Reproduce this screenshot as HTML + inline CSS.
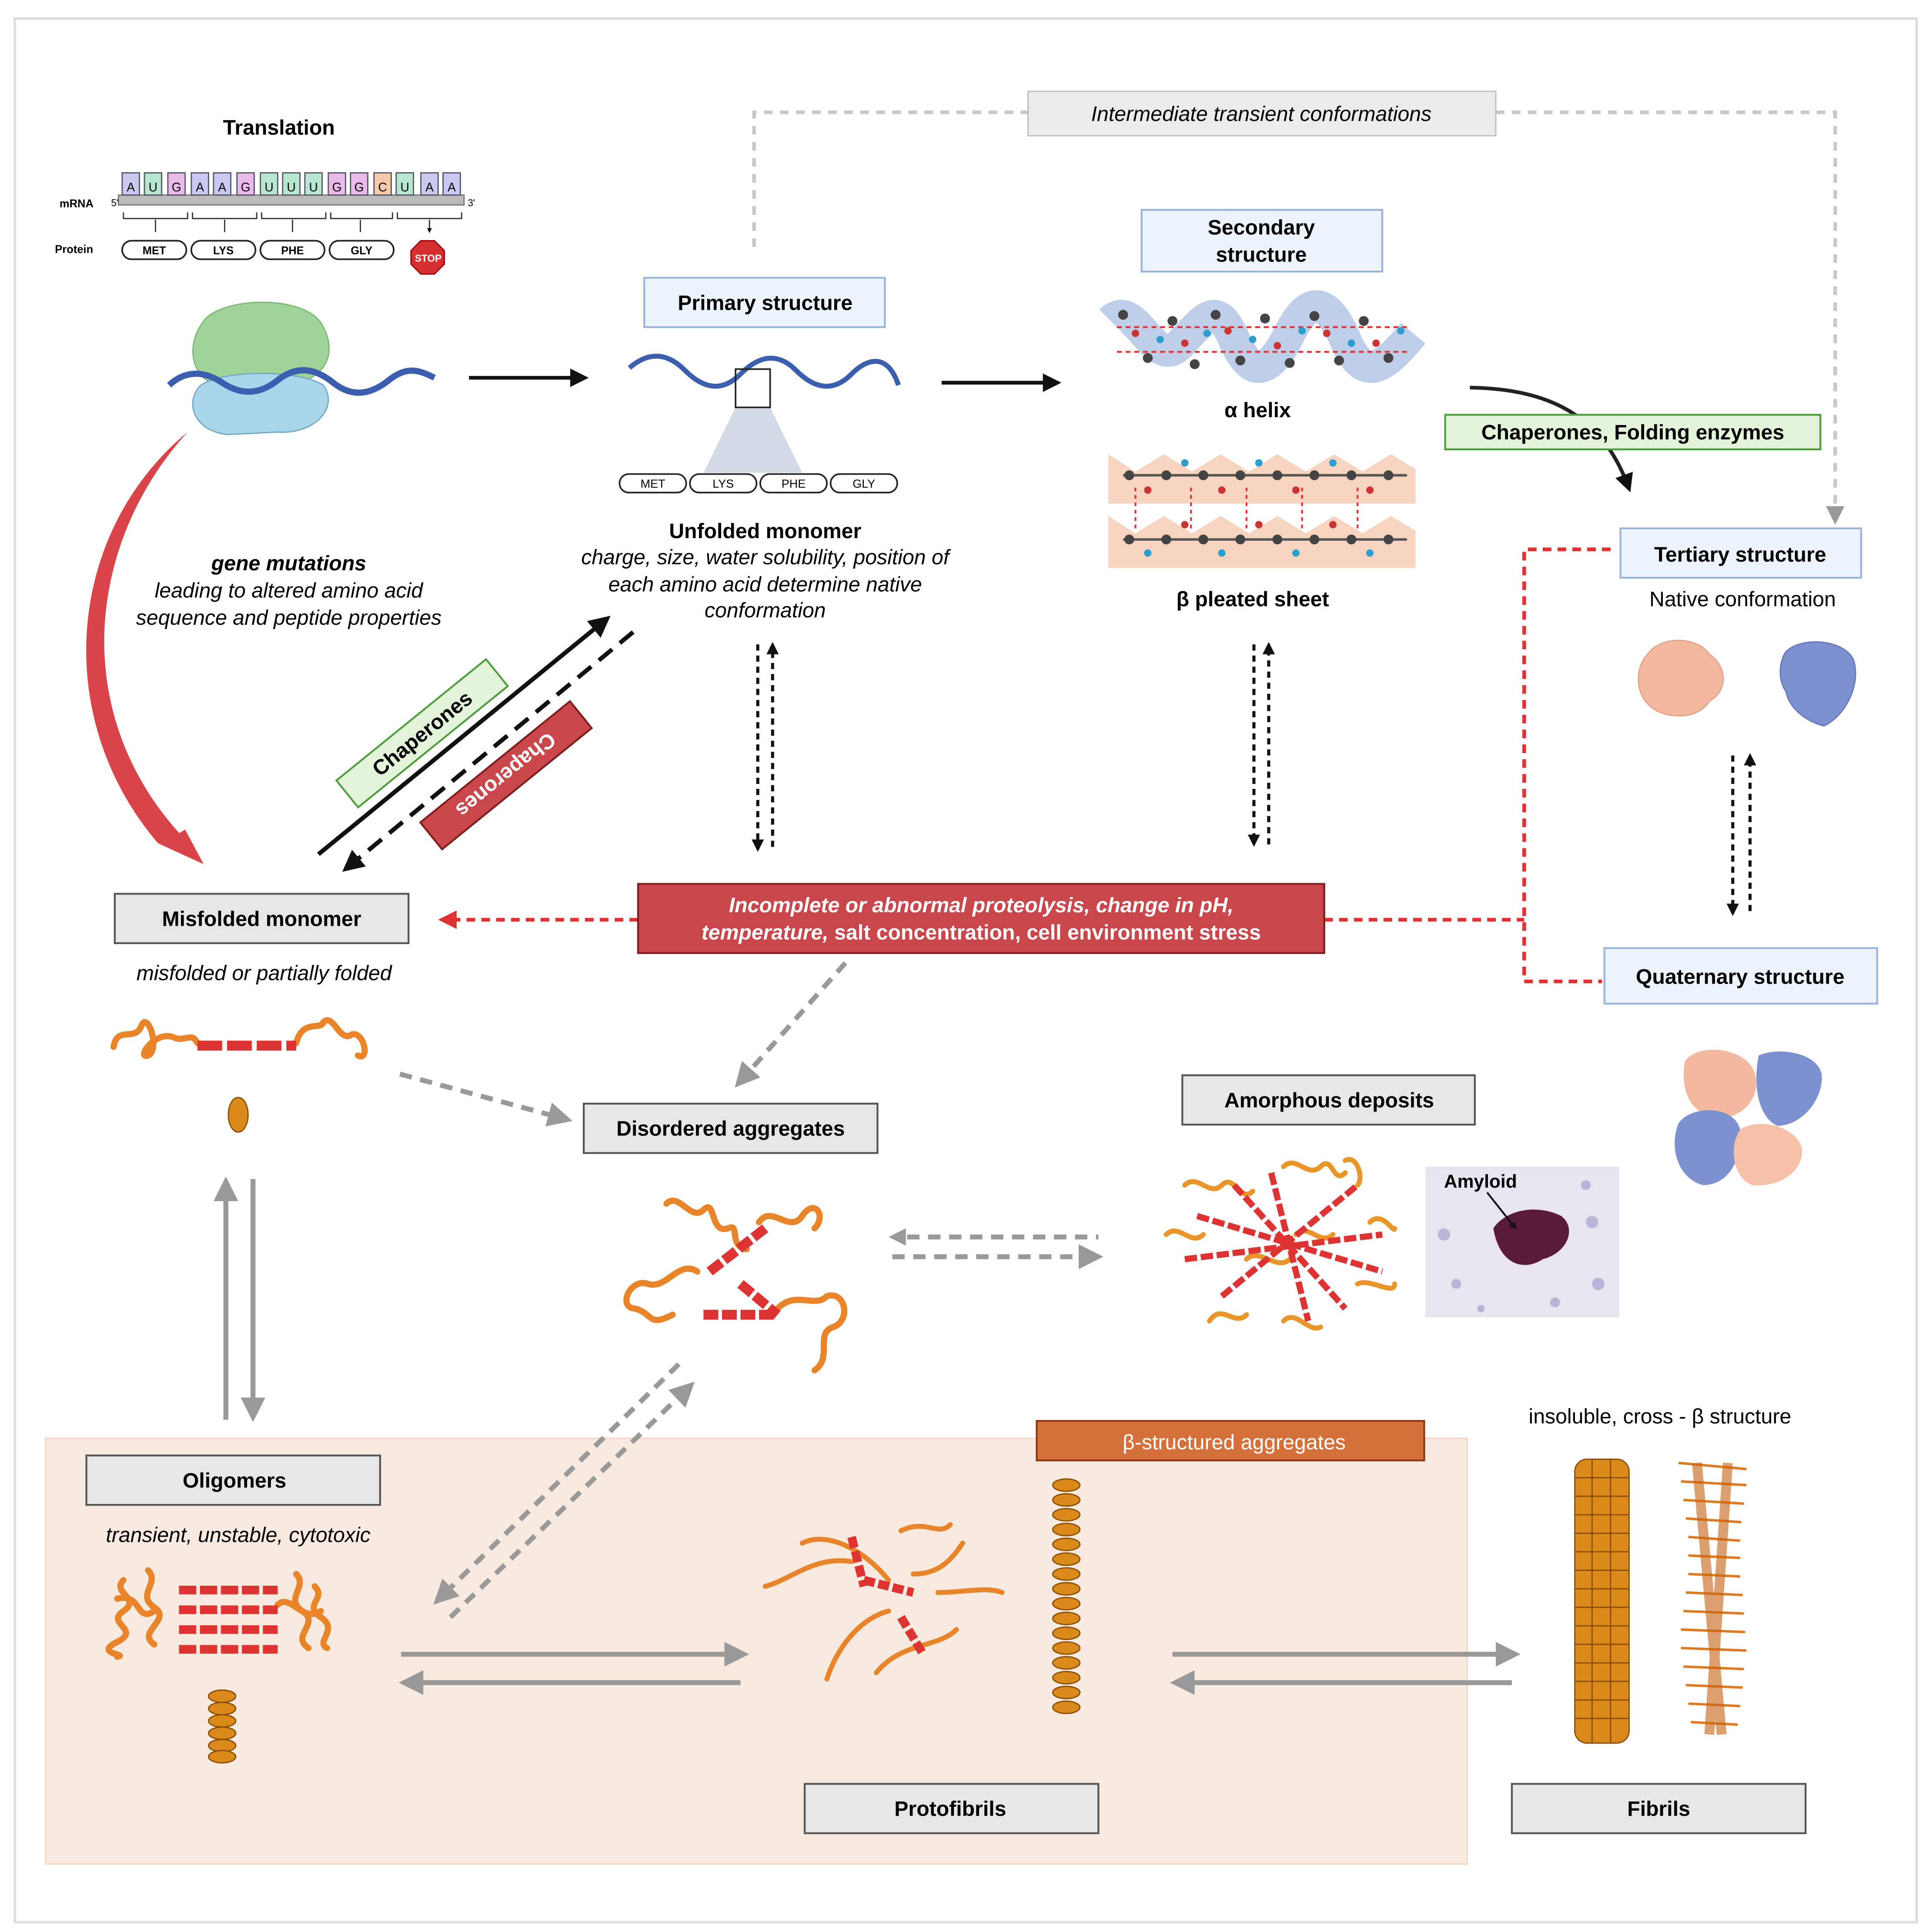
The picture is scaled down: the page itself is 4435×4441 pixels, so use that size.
<!DOCTYPE html>
<html><head><meta charset="utf-8"><style>
html,body{margin:0;padding:0;background:#fff}
svg{display:block}
text{font-family:"Liberation Sans",sans-serif}
</style></head><body>
<svg xmlns="http://www.w3.org/2000/svg" width="4435" height="4441" viewBox="0 0 1563 1565" preserveAspectRatio="none">
<defs>
<marker id="ab" viewBox="0 0 10 10" refX="8" refY="5" markerWidth="5" markerHeight="5" orient="auto"><path d="M0,0L10,5L0,10z" fill="#111"/></marker>
<marker id="ag" viewBox="0 0 10 10" refX="8" refY="5" markerWidth="5" markerHeight="5" orient="auto"><path d="M0,0L10,5L0,10z" fill="#999"/></marker>
<marker id="ar" viewBox="0 0 10 10" refX="8" refY="5" markerWidth="5" markerHeight="5" orient="auto"><path d="M0,0L10,5L0,10z" fill="#d33"/></marker>
<marker id="ad" viewBox="0 0 10 10" refX="8" refY="5" markerWidth="4" markerHeight="4" orient="auto"><path d="M0,0L10,5L0,10z" fill="#111"/></marker>
</defs>
<rect x="0" y="0" width="1563" height="1565" fill="#fff"/>
<rect x="12" y="15" width="1541" height="1542" fill="none" stroke="#ddd" stroke-width="2"/>
<rect x="37" y="1165" width="1152" height="345" fill="#f8eadf" stroke="#f0d6c4"/>

<text x="226" y="109" font-size="17" font-weight="bold" text-anchor="middle">Translation</text>
<text x="62" y="168" font-size="9" font-weight="bold" text-anchor="middle">mRNA</text>
<text x="60" y="205" font-size="9" font-weight="bold" text-anchor="middle">Protein</text>
<rect x="96" y="158" width="280" height="8" fill="#bbb" stroke="#777"/>
<g font-size="10" text-anchor="middle">
<g fill="#c8c8f0" stroke="#556"><rect x="99" y="140" width="14" height="18"/><rect x="155" y="140" width="14" height="18"/><rect x="173" y="140" width="14" height="18"/><rect x="341" y="140" width="14" height="18"/><rect x="359" y="140" width="14" height="18"/></g>
<g fill="#b6e6cf" stroke="#556"><rect x="117" y="140" width="14" height="18"/><rect x="211" y="140" width="14" height="18"/><rect x="229" y="140" width="14" height="18"/><rect x="247" y="140" width="14" height="18"/><rect x="321" y="140" width="14" height="18"/></g>
<g fill="#e9b9e9" stroke="#556"><rect x="136" y="140" width="14" height="18"/><rect x="192" y="140" width="14" height="18"/><rect x="266" y="140" width="14" height="18"/><rect x="284" y="140" width="14" height="18"/></g>
<rect x="303" y="140" width="14" height="18" fill="#f6c9a8" stroke="#556"/>
<text x="106" y="155">A</text><text x="124" y="155">U</text><text x="143" y="155">G</text><text x="162" y="155">A</text><text x="180" y="155">A</text><text x="199" y="155">G</text><text x="218" y="155">U</text><text x="236" y="155">U</text><text x="254" y="155">U</text><text x="273" y="155">G</text><text x="291" y="155">G</text><text x="310" y="155">C</text><text x="328" y="155">U</text><text x="348" y="155">A</text><text x="366" y="155">A</text>
</g>
<text x="90" y="167" font-size="8">5'</text><text x="379" y="167" font-size="8">3'</text>
<g stroke="#333" fill="none"><path d="M100,172v5h52v-5M156,172v5h52v-5M212,172v5h52v-5M268,172v5h50v-5M322,172v5h52v-5"/>
<path d="M126,178v10M182,178v10M237,178v10M292,178v10M348,178v10" marker-end="url(#ad)"/></g>
<g fill="#fff" stroke="#222" stroke-width="1.3"><rect x="99" y="195" width="52" height="15" rx="7.5"/><rect x="155" y="195" width="52" height="15" rx="7.5"/><rect x="211" y="195" width="52" height="15" rx="7.5"/><rect x="267" y="195" width="52" height="15" rx="7.5"/></g>
<g font-size="9" font-weight="bold" text-anchor="middle"><text x="125" y="206">MET</text><text x="181" y="206">LYS</text><text x="237" y="206">PHE</text><text x="293" y="206">GLY</text></g>
<polygon points="341,195 352,195 360,203 360,214 352,222 341,222 333,214 333,203" fill="#d62f2f" stroke="#900"/>
<text x="347" y="212" font-size="8" fill="#fff" font-weight="bold" text-anchor="middle">STOP</text>

<path d="M165,260 C180,240 250,238 262,265 C275,290 260,312 225,312 L175,312 C155,305 150,280 165,260z" fill="#9fd39a" stroke="#7ab873"/>
<path d="M160,315 C170,300 240,298 262,312 C275,330 255,352 225,350 L185,352 C160,350 150,330 160,315z" fill="#a9d6e8" stroke="#6fa8c6"/>
<path d="M137,312 C150,300 165,300 180,310 S210,320 225,308 S255,298 270,310 S300,320 315,308 S340,300 352,306" fill="none" stroke="#3b5fae" stroke-width="5"/>
<line x1="380" y1="306" x2="474" y2="306" stroke="#111" stroke-width="3" marker-end="url(#ab)"/>

<rect x="522" y="225" width="195" height="40" fill="#edf3fc" stroke="#9ab3da" stroke-width="1.5"/>
<text x="620" y="251" font-size="17" font-weight="bold" text-anchor="middle">Primary structure</text>
<polygon points="596,330 624,330 650,383 570,383" fill="#c9cfe0" opacity="0.8"/>
<path d="M510,298 C525,285 540,285 555,300 S585,318 600,303 S630,285 645,300 S675,318 690,303 S720,288 728,312" fill="none" stroke="#3b5fae" stroke-width="4"/>
<rect x="596" y="299" width="28" height="31" fill="none" stroke="#222" stroke-width="1.3"/>
<g fill="#fff" stroke="#222" stroke-width="1.3"><rect x="502" y="384" width="54" height="15" rx="7.5"/><rect x="559" y="384" width="54" height="15" rx="7.5"/><rect x="616" y="384" width="54" height="15" rx="7.5"/><rect x="673" y="384" width="54" height="15" rx="7.5"/></g>
<g font-size="9.5" text-anchor="middle"><text x="529" y="395">MET</text><text x="586" y="395">LYS</text><text x="643" y="395">PHE</text><text x="700" y="395">GLY</text></g>
<text x="620" y="436" font-size="17" font-weight="bold" text-anchor="middle">Unfolded monomer</text>
<g font-size="17" font-style="italic" text-anchor="middle"><text x="620" y="457">charge, size, water solubility, position of</text><text x="620" y="479">each amino acid determine native</text><text x="620" y="500">conformation</text></g>
<line x1="763" y1="310" x2="857" y2="310" stroke="#111" stroke-width="3" marker-end="url(#ab)"/>

<rect x="925" y="170" width="195" height="50" fill="#edf3fc" stroke="#9ab3da" stroke-width="1.5"/>
<text x="1022" y="190" font-size="17" font-weight="bold" text-anchor="middle">Secondary</text>
<text x="1022" y="212" font-size="17" font-weight="bold" text-anchor="middle">structure</text>
<g>
<path d="M900,260 C920,240 935,300 955,280 S985,240 1000,275 S1030,300 1045,270 S1075,240 1090,275 S1120,300 1145,270" fill="none" stroke="#aec2e4" stroke-width="26" opacity="0.8"/>
<path d="M905,265 L1140,265 M905,285 L1140,285" stroke="#d33" stroke-dasharray="4,3" stroke-width="1.5"/>
<g fill="#444"><circle cx="910" cy="255" r="4"/><circle cx="930" cy="290" r="4"/><circle cx="950" cy="260" r="4"/><circle cx="968" cy="295" r="4"/><circle cx="985" cy="255" r="4"/><circle cx="1005" cy="292" r="4"/><circle cx="1025" cy="258" r="4"/><circle cx="1045" cy="294" r="4"/><circle cx="1065" cy="256" r="4"/><circle cx="1085" cy="292" r="4"/><circle cx="1105" cy="260" r="4"/><circle cx="1125" cy="290" r="4"/></g>
<g fill="#c33"><circle cx="920" cy="270" r="3"/><circle cx="960" cy="278" r="3"/><circle cx="995" cy="268" r="3"/><circle cx="1035" cy="280" r="3"/><circle cx="1075" cy="270" r="3"/><circle cx="1115" cy="278" r="3"/></g>
<g fill="#2a9fd0"><circle cx="940" cy="275" r="3"/><circle cx="978" cy="270" r="3"/><circle cx="1015" cy="275" r="3"/><circle cx="1055" cy="268" r="3"/><circle cx="1095" cy="278" r="3"/><circle cx="1135" cy="268" r="3"/></g>
</g>
<text x="1019" y="338" font-size="17" font-weight="bold" text-anchor="middle">α helix</text>
<g>
<path d="M898,368 L920,382 L943,368 L966,382 L989,368 L1012,382 L1035,368 L1058,382 L1081,368 L1104,382 L1127,368 L1147,380 L1147,408 L898,408z" fill="#f4c9b0" opacity="0.8"/>
<path d="M898,418 L920,432 L943,418 L966,432 L989,418 L1012,432 L1035,418 L1058,432 L1081,418 L1104,432 L1127,418 L1147,430 L1147,460 L898,460z" fill="#f4c9b0" opacity="0.8"/>
<path d="M910,385 L1140,385 M910,437 L1140,437" stroke="#555" stroke-width="2"/>
<path d="M920,395v35M965,395v35M1010,395v35M1055,395v35M1100,395v35" stroke="#d33" stroke-dasharray="3,3" stroke-width="1.5"/>
<g fill="#444"><circle cx="915" cy="385" r="4"/><circle cx="945" cy="385" r="4"/><circle cx="975" cy="385" r="4"/><circle cx="1005" cy="385" r="4"/><circle cx="1035" cy="385" r="4"/><circle cx="1065" cy="385" r="4"/><circle cx="1095" cy="385" r="4"/><circle cx="1125" cy="385" r="4"/><circle cx="915" cy="437" r="4"/><circle cx="945" cy="437" r="4"/><circle cx="975" cy="437" r="4"/><circle cx="1005" cy="437" r="4"/><circle cx="1035" cy="437" r="4"/><circle cx="1065" cy="437" r="4"/><circle cx="1095" cy="437" r="4"/><circle cx="1125" cy="437" r="4"/></g>
<g fill="#c33"><circle cx="930" cy="397" r="3"/><circle cx="990" cy="397" r="3"/><circle cx="1050" cy="397" r="3"/><circle cx="1110" cy="397" r="3"/><circle cx="960" cy="425" r="3"/><circle cx="1020" cy="425" r="3"/><circle cx="1080" cy="425" r="3"/></g>
<g fill="#2a9fd0"><circle cx="960" cy="375" r="3"/><circle cx="1020" cy="375" r="3"/><circle cx="1080" cy="375" r="3"/><circle cx="930" cy="448" r="3"/><circle cx="990" cy="448" r="3"/><circle cx="1050" cy="448" r="3"/><circle cx="1110" cy="448" r="3"/></g>
</g>
<text x="1015" y="491" font-size="17" font-weight="bold" text-anchor="middle">β pleated sheet</text>

<path d="M611,200 V91 H833 M1212,91 H1487 V422" fill="none" stroke="#c8c8c8" stroke-width="3" stroke-dasharray="7,6" marker-end="url(#ag)"/>
<rect x="833" y="74" width="379" height="36" fill="#ebebeb" stroke="#bbb"/>
<text x="1022" y="98" font-size="17" font-style="italic" text-anchor="middle">Intermediate transient conformations</text>

<path d="M1191,314 C1260,315 1300,340 1320,396" fill="none" stroke="#222" stroke-width="3" marker-end="url(#ab)"/>
<rect x="1171" y="336" width="304" height="28" fill="#e3f3da" stroke="#4e9d3d" stroke-width="1.5"/>
<text x="1323" y="356" font-size="17" font-weight="bold" text-anchor="middle">Chaperones, Folding enzymes</text>

<rect x="1313" y="428" width="195" height="40" fill="#edf3fc" stroke="#9ab3da" stroke-width="1.5"/>
<text x="1410" y="455" font-size="17" font-weight="bold" text-anchor="middle">Tertiary structure</text>
<text x="1412" y="491" font-size="17" text-anchor="middle">Native conformation</text>
<path d="M1335,530 C1345,515 1375,515 1385,530 C1400,540 1400,560 1385,568 C1375,585 1345,582 1335,570 C1325,560 1325,540 1335,530z" fill="#f2b9a0" stroke="#e3a288"/>
<path d="M1447,528 C1460,515 1495,518 1502,535 C1508,555 1495,580 1478,588 C1465,585 1450,575 1447,560 C1440,550 1442,535 1447,528z" fill="#7d90cf" stroke="#6578bb"/>

<g stroke="#111" stroke-width="2.5" stroke-dasharray="5,4" fill="none">
<path d="M614,522 V688" marker-end="url(#ad)"/><path d="M626,686 V522" marker-end="url(#ad)"/>
<path d="M1016,522 V684" marker-end="url(#ad)"/><path d="M1028,684 V522" marker-end="url(#ad)"/>
<path d="M1404,612 V740" marker-end="url(#ad)"/><path d="M1418,738 V612" marker-end="url(#ad)"/>
</g>

<rect x="1300" y="768" width="221" height="45" fill="#edf3fc" stroke="#9ab3da" stroke-width="1.5"/>
<text x="1410" y="797" font-size="17" font-weight="bold" text-anchor="middle">Quaternary structure</text>
<g>
<path d="M1365,860 C1375,845 1410,848 1420,865 C1428,880 1420,900 1400,905 C1380,908 1360,895 1365,860z" fill="#f2b9a0"/>
<path d="M1425,855 C1440,848 1472,852 1476,870 C1478,890 1460,912 1440,912 C1425,905 1420,880 1425,855z" fill="#7d90cf"/>
<path d="M1360,910 C1370,895 1405,895 1410,915 C1412,940 1400,960 1380,960 C1360,955 1352,930 1360,910z" fill="#7d90cf"/>
<path d="M1410,915 C1425,905 1455,912 1460,930 C1462,950 1440,962 1420,960 C1405,955 1400,930 1410,915z" fill="#f6c1a8"/>
</g>

<g stroke="#d33" stroke-width="3" stroke-dasharray="7,5" fill="none">
<path d="M1305,445 H1235 V795 H1298"/>
<path d="M1073,745 H1235"/>
<path d="M517,745 H358" marker-end="url(#ar)"/>
</g>
<rect x="517" y="716" width="556" height="56" fill="#c9464a" stroke="#7e1d20" stroke-width="1.5"/>
<text x="795" y="739" font-size="17" font-weight="bold" font-style="italic" fill="#fff" text-anchor="middle">Incomplete or abnormal proteolysis, change in pH,</text>
<text x="795" y="761" font-size="17" font-weight="bold" fill="#fff" text-anchor="middle"><tspan font-style="italic">temperature,</tspan> salt concentration, cell environment stress</text>

<path d="M152,350 C70,440 55,580 150,680 L162,698 L128,683 C40,580 55,430 152,350z" fill="#d84447"/>
<path d="M150,672 L165,700 L130,684z" fill="#d84447"/>
<text x="234" y="462" font-size="17" font-weight="bold" font-style="italic" text-anchor="middle">gene mutations</text>
<text x="234" y="484" font-size="17" font-style="italic" text-anchor="middle">leading to altered amino acid</text>
<text x="234" y="506" font-size="17" font-style="italic" text-anchor="middle">sequence and peptide properties</text>

<line x1="258" y1="692" x2="492" y2="501" stroke="#111" stroke-width="3.5" marker-end="url(#ab)"/>
<line x1="513" y1="512" x2="280" y2="704" stroke="#111" stroke-width="3.5" stroke-dasharray="14,8" marker-end="url(#ab)"/>
<g transform="translate(342,594) rotate(-39)"><rect x="-78" y="-14" width="156" height="28" fill="#e3f3da" stroke="#4e9d3d" stroke-width="1.5"/><text x="0" y="6" font-size="17" font-weight="bold" text-anchor="middle">Chaperones</text></g>
<g transform="translate(410,628) rotate(141)"><rect x="-78" y="-14" width="156" height="28" fill="#c9464a" stroke="#7e1d20" stroke-width="1.5"/><text x="0" y="6" font-size="17" font-weight="bold" fill="#fff" text-anchor="middle">Chaperones</text></g>

<rect x="93" y="724" width="238" height="40" fill="#e6e6e6" stroke="#555" stroke-width="1.5"/>
<text x="212" y="750" font-size="17" font-weight="bold" text-anchor="middle">Misfolded monomer</text>
<text x="214" y="794" font-size="17" font-style="italic" text-anchor="middle">misfolded or partially folded</text>
<path d="M92,848 C95,830 110,845 115,830 C120,820 130,850 120,855 C110,858 125,835 140,840 C150,845 155,835 160,845 M240,845 C245,825 260,835 262,828 C270,820 275,845 285,838 C295,835 300,860 290,855" fill="none" stroke="#e8852a" stroke-width="5" stroke-linecap="round"/>
<line x1="160" y1="847" x2="240" y2="847" stroke="#d33" stroke-width="8" stroke-dasharray="20,4"/>
<ellipse cx="193" cy="903" rx="8" ry="14" fill="#d98a1a" stroke="#8a4d00"/>

<line x1="324" y1="870" x2="460" y2="907" stroke="#999" stroke-width="4" stroke-dasharray="10,7" marker-end="url(#ag)"/>
<line x1="685" y1="780" x2="598" y2="878" stroke="#999" stroke-width="4" stroke-dasharray="10,7" marker-end="url(#ag)"/>
<rect x="473" y="894" width="238" height="40" fill="#e6e6e6" stroke="#555" stroke-width="1.5"/>
<text x="592" y="920" font-size="17" font-weight="bold" text-anchor="middle">Disordered aggregates</text>
<g fill="none" stroke="#e8852a" stroke-width="5" stroke-linecap="round">
<path d="M540,975 C550,965 560,990 570,980 C580,970 575,1000 590,995 C600,990 590,1010 605,1012"/>
<path d="M615,990 C625,975 640,1000 650,985 C660,970 670,985 660,995"/>
<path d="M565,1030 C550,1020 540,1045 525,1040 C510,1035 500,1060 515,1060 C530,1065 525,1075 545,1065"/>
<path d="M630,1060 C645,1045 660,1060 670,1050 C685,1045 690,1070 675,1075 C660,1080 675,1100 660,1110"/>
</g>
<path d="M575,1030 L620,995 M600,1040 L630,1065 M570,1065 L630,1065" stroke="#d33" stroke-width="8" stroke-dasharray="12,3"/>

<rect x="958" y="871" width="237" height="40" fill="#e6e6e6" stroke="#555" stroke-width="1.5"/>
<text x="1077" y="897" font-size="17" font-weight="bold" text-anchor="middle">Amorphous deposits</text>
<g fill="none" stroke="#e8952a" stroke-width="4" stroke-linecap="round">
<path d="M960,960 c10,-10 20,10 30,0 s15,15 25,5"/><path d="M945,1000 c10,-10 20,10 30,0"/><path d="M980,1070 c10,-15 20,5 30,-5"/><path d="M1040,945 c10,-10 20,10 30,0 s10,15 20,5"/><path d="M1090,940 c10,-5 15,15 10,20"/><path d="M1110,990 c10,-10 20,10 20,5"/><path d="M1100,1040 c10,-5 30,10 30,0"/><path d="M1040,1070 c10,-10 20,10 30,5"/><path d="M1010,1020 c10,-10 25,10 35,0"/><path d="M1050,1000 c10,-10 20,10 30,0"/>
</g>
<g stroke="#d33" stroke-width="5" stroke-dasharray="10,3"><path d="M970,985 L1120,1030"/><path d="M990,1050 L1100,960"/><path d="M1030,950 L1060,1070"/><path d="M960,1020 L1120,1000"/><path d="M1000,960 L1090,1060"/></g>
<rect x="1155" y="945" width="157" height="122" fill="#e8e4ef"/>
<g fill="#a9a1cf" opacity="0.7"><circle cx="1170" cy="1000" r="5"/><circle cx="1180" cy="1040" r="4"/><circle cx="1290" cy="990" r="5"/><circle cx="1295" cy="1040" r="5"/><circle cx="1260" cy="1055" r="4"/><circle cx="1200" cy="1060" r="3"/><circle cx="1285" cy="960" r="4"/></g>
<path d="M1210,995 C1220,980 1245,975 1265,985 C1278,995 1270,1015 1250,1020 C1235,1030 1215,1025 1210,995z" fill="#5a1a3a"/>
<text x="1170" y="962" font-size="15" font-weight="bold">Amyloid</text>
<line x1="1205" y1="966" x2="1228" y2="995" stroke="#111" stroke-width="1.5" marker-end="url(#ad)"/>
<line x1="735" y1="1002" x2="890" y2="1002" stroke="#999" stroke-width="4" stroke-dasharray="10,7"/>
<polygon points="720,1002 734,995 734,1009" fill="#999"/>
<line x1="723" y1="1018" x2="890" y2="1018" stroke="#999" stroke-width="4" stroke-dasharray="10,7" marker-end="url(#ag)"/>

<line x1="183" y1="1150" x2="183" y2="957" stroke="#999" stroke-width="4" marker-end="url(#ag)"/>
<line x1="205" y1="955" x2="205" y2="1148" stroke="#999" stroke-width="4" marker-end="url(#ag)"/>

<rect x="70" y="1179" width="238" height="40" fill="#e6e6e6" stroke="#555" stroke-width="1.5"/>
<text x="190" y="1205" font-size="17" font-weight="bold" text-anchor="middle">Oligomers</text>
<text x="193" y="1249" font-size="17" font-style="italic" text-anchor="middle">transient, unstable, cytotoxic</text>
<g fill="none" stroke="#e8852a" stroke-width="5" stroke-linecap="round">
<path d="M100,1280 c-10,10 15,15 0,25 s15,15 -5,25 s10,10 0,12 M120,1272 c10,10 -10,20 5,30 s-15,20 0,30 M95,1295 c20,-5 15,20 30,10"/>
<path d="M240,1275 c10,10 -10,20 5,30 s-10,20 5,30 M255,1285 c10,10 -10,15 5,25 s-5,20 5,25 M225,1300 c10,-10 20,15 35,5"/>
</g>
<g stroke="#d33" stroke-width="7" stroke-dasharray="14,3"><path d="M145,1288 H225M145,1304 H225M145,1320 H225M145,1336 H225"/></g>
<g fill="#d98a1a" stroke="#8a4d00"><ellipse cx="180" cy="1374" rx="11" ry="5"/><ellipse cx="180" cy="1384" rx="11" ry="5"/><ellipse cx="180" cy="1394" rx="11" ry="5"/><ellipse cx="180" cy="1404" rx="11" ry="5"/><ellipse cx="180" cy="1414" rx="11" ry="5"/><ellipse cx="180" cy="1423" rx="11" ry="5"/></g>

<line x1="365" y1="1310" x2="560" y2="1122" stroke="#999" stroke-width="4" stroke-dasharray="10,7" marker-end="url(#ag)"/>
<line x1="550" y1="1105" x2="354" y2="1297" stroke="#999" stroke-width="4" stroke-dasharray="10,7" marker-end="url(#ag)"/>

<rect x="840" y="1151" width="314" height="32" fill="#d4703a" stroke="#8b3a10" stroke-width="1.5"/>
<text x="1000" y="1174" font-size="17" fill="#fff" text-anchor="middle">β-structured aggregates</text>
<g fill="none" stroke="#e8852a" stroke-width="4" stroke-linecap="round">
<path d="M620,1285 C640,1280 660,1260 690,1265 M650,1250 C670,1240 700,1255 720,1280 M730,1240 C750,1230 760,1245 770,1235 M670,1360 C680,1330 700,1310 720,1305 M710,1355 C730,1330 760,1335 775,1320 M760,1290 C780,1290 800,1285 812,1290 M740,1275 C760,1275 770,1265 780,1250"/>
</g>
<g stroke="#d33" stroke-width="7" stroke-dasharray="9,3"><path d="M690,1245 L700,1285 M700,1280 L740,1290 M730,1310 L748,1340"/></g>
<g fill="#d98a1a" stroke="#8a4d00">
<ellipse cx="864" cy="1203" rx="11" ry="5"/><ellipse cx="864" cy="1215" rx="11" ry="5"/><ellipse cx="864" cy="1227" rx="11" ry="5"/><ellipse cx="864" cy="1239" rx="11" ry="5"/><ellipse cx="864" cy="1251" rx="11" ry="5"/><ellipse cx="864" cy="1263" rx="11" ry="5"/><ellipse cx="864" cy="1275" rx="11" ry="5"/><ellipse cx="864" cy="1287" rx="11" ry="5"/><ellipse cx="864" cy="1299" rx="11" ry="5"/><ellipse cx="864" cy="1311" rx="11" ry="5"/><ellipse cx="864" cy="1323" rx="11" ry="5"/><ellipse cx="864" cy="1335" rx="11" ry="5"/><ellipse cx="864" cy="1347" rx="11" ry="5"/><ellipse cx="864" cy="1359" rx="11" ry="5"/><ellipse cx="864" cy="1371" rx="11" ry="5"/><ellipse cx="864" cy="1383" rx="11" ry="5"/></g>

<line x1="325" y1="1340" x2="603" y2="1340" stroke="#999" stroke-width="4" marker-end="url(#ag)"/>
<line x1="600" y1="1363" x2="327" y2="1363" stroke="#999" stroke-width="4" marker-end="url(#ag)"/>
<line x1="950" y1="1340" x2="1228" y2="1340" stroke="#999" stroke-width="4" marker-end="url(#ag)"/>
<line x1="1225" y1="1363" x2="952" y2="1363" stroke="#999" stroke-width="4" marker-end="url(#ag)"/>

<rect x="652" y="1445" width="238" height="40" fill="#e6e6e6" stroke="#555" stroke-width="1.5"/>
<text x="770" y="1471" font-size="17" font-weight="bold" text-anchor="middle">Protofibrils</text>
<rect x="1225" y="1445" width="238" height="40" fill="#e6e6e6" stroke="#555" stroke-width="1.5"/>
<text x="1344" y="1471" font-size="17" font-weight="bold" text-anchor="middle">Fibrils</text>
<text x="1345" y="1153" font-size="17" text-anchor="middle">insoluble, cross - β structure</text>

<rect x="1276" y="1182" width="44" height="230" rx="10" fill="#d98a1a" stroke="#8a4d00"/>
<g stroke="#8a4d00" stroke-width="1" fill="none">
<path d="M1290,1182 V1412 M1305,1182 V1412"/>
<path d="M1276,1197H1320M1276,1212H1320M1276,1227H1320M1276,1242H1320M1276,1257H1320M1276,1272H1320M1276,1287H1320M1276,1302H1320M1276,1317H1320M1276,1332H1320M1276,1347H1320M1276,1362H1320M1276,1377H1320M1276,1392H1320"/>
</g>
<g stroke="#e07a20" stroke-width="2">
<path d="M1360,1185 L1415,1190 M1362,1200 L1415,1203 M1364,1215 L1413,1218 M1366,1230 L1411,1233 M1368,1245 L1410,1248 M1368,1260 L1410,1262 M1368,1275 L1410,1277 M1366,1290 L1412,1292 M1364,1305 L1413,1307 M1362,1320 L1414,1322 M1362,1335 L1415,1337 M1364,1350 L1413,1352 M1366,1365 L1412,1367 M1368,1380 L1410,1382 M1370,1395 L1408,1397"/>
</g>
<path d="M1375,1185 L1395,1405 M1400,1185 L1385,1405" stroke="#c66212" stroke-width="8" opacity="0.6"/>
</svg>
</body></html>
